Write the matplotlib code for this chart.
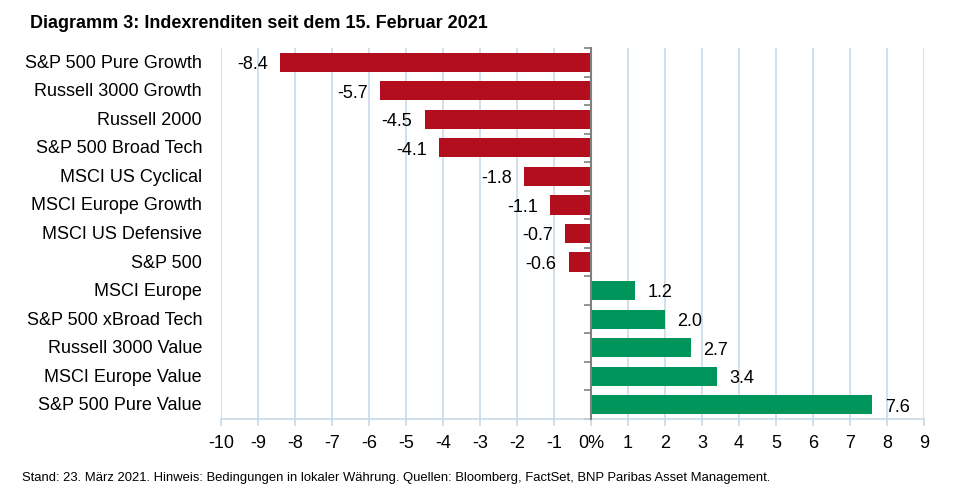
import matplotlib
matplotlib.use("Agg")
import matplotlib.pyplot as plt
from matplotlib import font_manager as fm
import matplotlib.transforms as mtransforms

names = [f.name for f in fm.fontManager.ttflist]
fam = ['Liberation Sans Narrow', 'Liberation Sans', 'DejaVu Sans'] if 'Liberation Sans Narrow' in names else ['Liberation Sans', 'DejaVu Sans']
plt.rcParams['font.family'] = fam

categories = ["S&P 500 Pure Growth", "Russell 3000 Growth", "Russell 2000", "S&P 500 Broad Tech",
              "MSCI US Cyclical", "MSCI Europe Growth", "MSCI US Defensive", "S&P 500",
              "MSCI Europe", "S&P 500 xBroad Tech", "Russell 3000 Value", "MSCI Europe Value",
              "S&P 500 Pure Value"]
values = [-8.4, -5.7, -4.5, -4.1, -1.8, -1.1, -0.7, -0.6, 1.2, 2.0, 2.7, 3.4, 7.6]
value_labels = ["-8.4", "-5.7", "-4.5", "-4.1", "-1.8", "-1.1", "-0.7", "-0.6", "1.2", "2.0", "2.7", "3.4", "7.6"]
xticks = list(range(-10, 10))
xticklabels = [("0%" if t == 0 else str(t)) for t in xticks]

RED = "#B20E1E"
GREEN = "#00965B"
GRID = "#C9DAE8"

W, H = 955, 502
fig = plt.figure(figsize=(W / 100, H / 100), dpi=100)
ax = fig.add_axes([221 / W, 1 - 420 / H, 703 / W, 371 / H])

n = len(categories)
ypos = list(range(n))
colors = [RED if v < 0 else GREEN for v in values]
ax.barh(ypos, values, height=0.67, color=colors, zorder=3)

ax.set_xlim(-10, 9)
ax.set_ylim(n - 0.5, -0.5)
ax.set_xticks(xticks)
ax.set_xticklabels(xticklabels, fontsize=13)
ax.xaxis.grid(True, color=GRID, linewidth=1.2, zorder=0)
ax.tick_params(axis='x', direction='out', length=5, color=GRID, width=1.2, pad=6)

for s in ['top', 'right']:
    ax.spines[s].set_visible(False)
ax.spines['bottom'].set_color(GRID)
ax.spines['bottom'].set_linewidth(1.2)
ax.spines['left'].set_position(('data', 0))
ax.spines['left'].set_color('#808080')
ax.spines['left'].set_linewidth(1.5)
ax.spines['left'].set_zorder(4)
ax.set_yticks([i - 0.5 for i in range(n + 1)])
ax.set_yticklabels([])
ax.tick_params(axis='y', direction='out', length=5, color='#808080', width=1.2)

trans = mtransforms.blended_transform_factory(ax.transAxes, ax.transData)
for i, c in enumerate(categories):
    ax.text(-0.027, i, c, transform=trans, ha='right', va='center', fontsize=13, color='black')

for i, (v, lab) in enumerate(zip(values, value_labels)):
    if v < 0:
        ax.annotate(lab, (v, i), xytext=(-9, -1), textcoords='offset points', ha='right', va='center',
                    fontsize=13, zorder=5)
    else:
        ax.annotate(lab, (v, i), xytext=(9, -1), textcoords='offset points', ha='left', va='center',
                    fontsize=13, zorder=5)

fig.text(30 / W, 1 - 23 / H, "Diagramm 3: Indexrenditen seit dem 15. Februar 2021",
         fontsize=13, fontweight='bold', ha='left', va='center')
fig.text(22 / W, 1 - 478 / H,
         "Stand: 23. März 2021. Hinweis: Bedingungen in lokaler Währung. Quellen: Bloomberg, FactSet, BNP Paribas Asset Management.",
         fontsize=9.4, ha='left', va='center')

fig.savefig("out.png", dpi=100)
